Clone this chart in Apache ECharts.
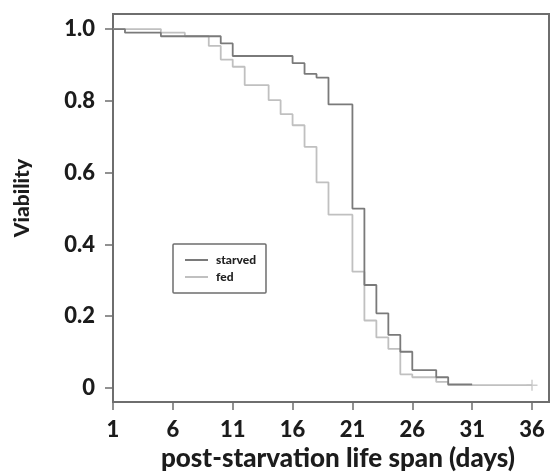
<!DOCTYPE html>
<html>
<head>
<meta charset="utf-8">
<script src="https://cdn.jsdelivr.net/npm/echarts@6/dist/echarts.min.js"></script>
<style>
html,body{margin:0;padding:0;background:#fff;}
#chart{width:551px;height:473px;}
</style>
</head>
<body>
<div id="chart"></div>
<script>
const starvedDays = [1, 2, 5, 10, 11, 16, 17, 18, 19, 21, 22, 23, 24, 25, 26, 28, 29, 31];
const starvedViability = [1.0, 0.99, 0.98, 0.96, 0.925, 0.905, 0.875, 0.865, 0.79, 0.50, 0.287, 0.208, 0.148, 0.101, 0.05, 0.03, 0.01, 0.01];
const fedDays = [1, 5, 7, 9, 10, 11, 12, 14, 15, 16, 17, 18, 19, 21, 22, 23, 24, 25, 26, 28, 29, 36];
const fedViability = [1.0, 0.99, 0.98, 0.953, 0.915, 0.895, 0.844, 0.802, 0.763, 0.732, 0.672, 0.573, 0.483, 0.324, 0.188, 0.141, 0.109, 0.038, 0.03, 0.017, 0.008, 0.008];
const xTicks = [1, 6, 11, 16, 21, 26, 31, 36];
const yTicks = [0, 0.2, 0.4, 0.6, 0.8, 1.0];
const seriesNames = ['starved', 'fed'];
const xTitle = 'post-starvation life span (days)';
const yTitle = 'Viability';

const FONT = 'Lato, "Open Sans", sans-serif';
const AXIS = '#6e6e6e';
const DARK = '#7a7a7a';
const LIGHT = '#c0c0c0';
const TEXT = '#1c1c1c';
const W = 900;

const pair = (xs, ys) => xs.map((x, i) => [x, ys[i]]);
const starvedData = pair(starvedDays, starvedViability);
const fedData = pair(fedDays, fedViability);

const chart = echarts.init(document.getElementById('chart'), null, {renderer: 'canvas'});
chart.setOption({
  animation: false,
  backgroundColor: '#fff',
  grid: {left: 113, right: 2, top: 14, bottom: 71, show: true, borderColor: AXIS, borderWidth: 2, backgroundColor: 'transparent'},
  xAxis: {
    type: 'value', min: 1, max: 37.42,
    splitLine: {show: false},
    axisLine: {show: true, onZero: false, lineStyle: {color: AXIS, width: 2}},
    axisTick: {show: true, length: 8, inside: false, lineStyle: {color: AXIS, width: 1.5}, customValues: xTicks},
    axisLabel: {customValues: xTicks, margin: 17, fontFamily: FONT, fontWeight: W, fontSize: 22, color: TEXT}
  },
  yAxis: {
    type: 'value', min: -0.039, max: 1.042,
    splitLine: {show: false},
    axisLine: {show: true, onZero: false, lineStyle: {color: AXIS, width: 2}},
    axisTick: {show: true, length: 8, inside: false, lineStyle: {color: AXIS, width: 1.5}, customValues: yTicks},
    axisLabel: {customValues: yTicks, margin: 18, fontFamily: FONT, fontWeight: W, fontSize: 22, color: TEXT,
      formatter: v => (v === 0 ? '0' : v.toFixed(1))}
  },
  legend: {
    data: seriesNames,
    orient: 'vertical',
    left: 173, top: 244,
    padding: [9, 10, 9, 12],
    itemGap: 3,
    itemWidth: 23, itemHeight: 2,
    icon: 'rect',
    borderColor: AXIS, borderWidth: 1.5, borderRadius: 1,
    textStyle: {fontFamily: FONT, fontWeight: W, fontSize: 12, color: '#222', lineHeight: 14, padding: [0, 0, 0, 3]}
  },
  graphic: [
    {type: 'text', x: 22, y: 198, rotation: Math.PI / 2,
      style: {text: yTitle, font: W + ' 21px ' + FONT, fill: TEXT, textAlign: 'center', textVerticalAlign: 'middle'}},
    {type: 'text', x: 338, y: 459,
      style: {text: xTitle, font: W + ' 26px ' + FONT, fill: TEXT, textAlign: 'center', textVerticalAlign: 'middle'}}
  ],
  series: [
    {name: 'fed', type: 'line', step: 'end', data: fedData, showSymbol: false, symbol: 'none',
      lineStyle: {color: LIGHT, width: 1.8}, itemStyle: {color: LIGHT}, z: 2},
    {name: 'starved', type: 'line', step: 'end', data: starvedData, showSymbol: false, symbol: 'none',
      lineStyle: {color: DARK, width: 1.8}, itemStyle: {color: DARK}, z: 3},
    {name: 'fedCensor', type: 'scatter', data: [fedData[fedData.length - 1]],
      symbol: 'path://M0,5L10,5M5,0L5,10', symbolSize: 11,
      itemStyle: {color: 'none', borderColor: LIGHT, borderWidth: 1.5}, z: 2},
    {name: 'starvedCensor', type: 'scatter', data: [starvedData[starvedData.length - 1]],
      symbol: 'path://M5,0L5,10', symbolSize: [2, 7],
      itemStyle: {color: 'none', borderColor: DARK, borderWidth: 1.5}, z: 3}
  ]
});
</script>
</body>
</html>
